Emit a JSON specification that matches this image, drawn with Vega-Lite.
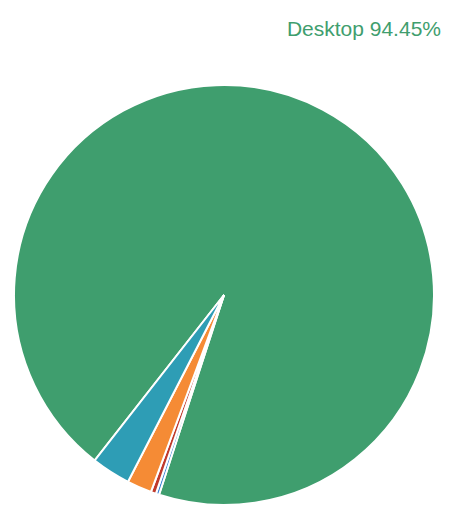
{
  "$schema": "https://vega.github.io/schema/vega-lite/v6.json",
  "width": 448,
  "height": 490,
  "autosize": "none",
  "padding": {"top": 50, "left": 0, "right": 24, "bottom": 0},
  "title": {"text": "Desktop 94.45%", "anchor": "end", "color": "#3f9e6e", "fontSize": 21, "fontWeight": "normal", "font": "Liberation Sans", "offset": 10, "dx": -7},
  "data": {"values": [
    {"device": "Desktop", "share": 94.45, "order": 1},
    {"device": "Other", "share": 0.25, "order": 2},
    {"device": "Console", "share": 0.4, "order": 3},
    {"device": "Tablet", "share": 1.9, "order": 4},
    {"device": "Mobile", "share": 3.0, "order": 5}
  ]},
  "mark": {"type": "arc", "outerRadius": 210, "stroke": "white", "strokeWidth": 2},
  "encoding": {
    "theta": {"field": "share", "type": "quantitative", "stack": true, "scale": {"range": [3.805, 10.088]}},
    "order": {"field": "order", "type": "quantitative"},
    "color": {"field": "device", "type": "nominal", "legend": null,
      "scale": {"domain": ["Desktop", "Other", "Console", "Tablet", "Mobile"], "range": ["#3f9e6e", "#3b82d6", "#c0392b", "#f58b35", "#2e9db5"]}}
  }
}
